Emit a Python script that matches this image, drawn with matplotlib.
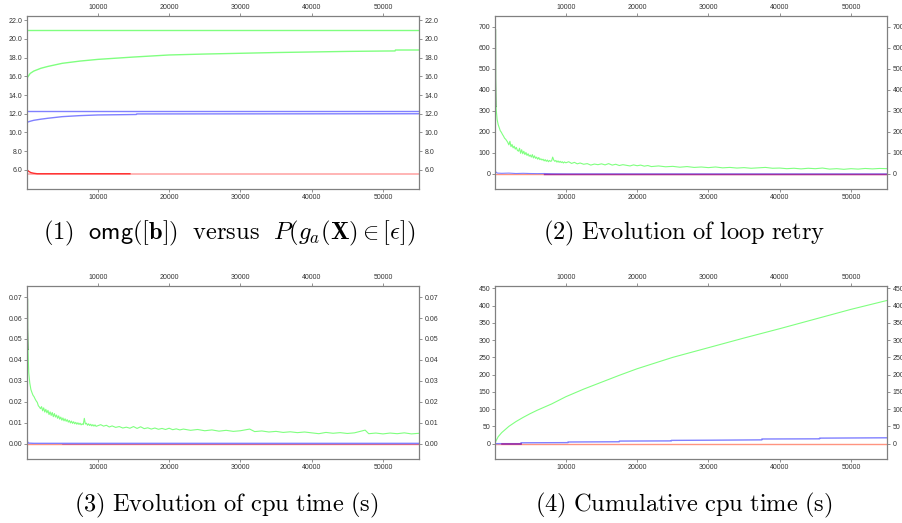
import matplotlib
matplotlib.use("Agg")
import matplotlib.pyplot as plt
from matplotlib.ticker import FormatStrFormatter

# --- Colours ---
GREEN = '#80ff80'
DARK_GREEN = '#1a8a1a'
BLUE = '#8080ff'
RED = '#ff3030'
LIGHT_RED = '#ffa8a8'
SALMON = '#ff9480'
PURPLE = '#a030a0'

# --- Panel 1: omg([b]) versus P(g_a(X) in [eps]) ---
p1_ref_x = [100, 55100]
p1_green_ref = [20.9, 20.9]
p1_blue_ref = [12.3, 12.3]
p1_red_ref = [5.57, 5.57]
p1_green_x = [100, 500, 1000, 2000, 3000, 5000, 7500, 10000, 15000, 20000, 25000,
              30000, 35000, 40000, 45000, 50000, 51700, 51750, 55100]
p1_green = [15.85, 16.3, 16.55, 16.85, 17.05, 17.38, 17.62, 17.8, 18.05, 18.27, 18.37,
            18.45, 18.53, 18.59, 18.65, 18.69, 18.7, 18.8, 18.8]
p1_blue_x = [100, 500, 1000, 2000, 3000, 5000, 7500, 10000, 15400, 15450, 55100]
p1_blue = [11.1, 11.2, 11.3, 11.42, 11.52, 11.69, 11.8, 11.87, 11.92, 11.98, 12.0]
p1_red_x = [100, 300, 600, 1000, 1500, 14500]
p1_red = [6.0, 5.85, 5.72, 5.65, 5.6, 5.6]

# --- Panel 2: loop retry ---
p2_spike_x = [140, 150, 190]
p2_spike = [685, 450, 320]
p2_green_x = [190, 350, 500, 650, 800, 950, 1100, 1250, 1400, 1550, 1700, 1850, 2000,
              2150, 2300, 2450, 2600, 2750, 2900, 3050, 3200, 3350, 3500, 3650, 3800,
              3950, 4100, 4250, 4400, 4550, 4700, 4850, 5000, 5150, 5300, 5450, 5600,
              5750, 5900, 6050, 6200, 6350, 6500, 6650, 6800, 6950, 7100, 7250, 7400,
              7550, 7700, 7850, 8000, 8150, 8300, 8450, 8600, 8750, 8900, 9050, 9200,
              9350, 9500, 9650, 9800, 10000, 10400, 10800, 11200, 11600, 12000, 12500,
              13000, 13500, 14000, 14500, 15000, 15500, 16000, 16500, 17000, 17500,
              18000, 18500, 19000, 19500, 20000, 20500, 21000, 21500, 22000, 23000,
              24000, 25000, 26000, 27000, 28000, 29000, 30000, 31000, 32000, 33000,
              34000, 35000, 36000, 37000, 38000, 39000, 40000, 41000, 42000, 43000,
              44000, 45000, 46000, 47000, 48000, 49000, 50000, 51000, 52000, 53000,
              54000, 55100]
p2_green = [320, 260, 235, 220, 205, 198, 188, 180, 170, 165, 158, 150, 138,
            155, 130, 140, 124, 132, 118, 126, 112, 108, 122, 98, 115,
            96, 108, 92, 102, 88, 96, 84, 90, 80, 92, 76, 86,
            74, 80, 70, 78, 68, 72, 66, 70, 62, 68, 60, 66,
            58, 64, 60, 62, 80, 66, 60, 64, 56, 62, 55, 60,
            54, 58, 52, 57, 53, 58, 50, 55, 48, 52, 46,
            49, 42, 47, 44, 48, 43, 49, 42, 46, 40,
            44, 41, 38, 43, 39, 42, 37, 40, 35, 38,
            34, 36, 32, 35, 31, 33, 30, 33, 29, 31,
            28, 30, 27, 29, 31, 27, 28, 25, 27, 24,
            27, 25, 28, 23, 25, 22, 25, 23, 26, 24,
            26, 25]
p2_blue_x = [100, 200, 400, 1000, 2000, 3000, 4000, 5000, 6000, 7000, 8000, 10000, 55100]
p2_blue = [16, 8, 4, 3, 4, 2, 3, 2, 1.5, 2, 1, 0.5, 0.3]
p2_red_x = [100, 55100]
p2_red = [0, 0]
p2_purple_x = [7000, 55100]
p2_purple = [0, 0]

# --- Panel 3: cpu time (s) ---
p3_spike_x = [140, 150, 200]
p3_spike = [0.069, 0.055, 0.045]
p3_green_x = [200, 300, 450, 600, 750, 900, 1050, 1200, 1350, 1500, 1650, 1800, 1950,
              2100, 2250, 2400, 2550, 2700, 2850, 3000, 3150, 3300, 3450, 3600, 3750,
              3900, 4050, 4200, 4350, 4500, 4650, 4800, 4950, 5100, 5250, 5400, 5550,
              5700, 5850, 6000, 6150, 6300, 6450, 6600, 6750, 6900, 7050, 7200, 7350,
              7500, 7650, 7800, 7950, 8100, 8250, 8400, 8550, 8700, 8850, 9000, 9150,
              9300, 9450, 9600, 9750, 10000, 10400, 10800, 11200, 11600, 12000, 12500,
              13000, 13500, 14000, 14500, 15000, 15500, 16000, 16500, 17000, 17500,
              18000, 18500, 19000, 19500, 20000, 20500, 21000, 21500, 22000, 23000,
              24000, 25000, 26000, 27000, 28000, 29000, 30000, 31300, 32000, 33000,
              34000, 35000, 36000, 37000, 38000, 39000, 40000, 41000, 42000, 43000,
              44000, 45000, 46000, 47500, 48000, 49000, 50000, 51000, 52000, 53000,
              54000, 55100]
p3_green = [0.045, 0.034, 0.029, 0.026, 0.0245, 0.0232, 0.0225, 0.0214, 0.0205, 0.0198,
            0.0182, 0.0176, 0.0168, 0.0178, 0.0158, 0.0172, 0.0152, 0.0165, 0.0148,
            0.0160, 0.0140, 0.0153, 0.0136, 0.0150, 0.0130, 0.0145, 0.0128, 0.0138,
            0.0122, 0.0134, 0.0118, 0.0128, 0.0113, 0.0124, 0.0110, 0.0120, 0.0108,
            0.0116, 0.0104, 0.0112, 0.0100, 0.0109, 0.0098, 0.0106, 0.0096, 0.0103,
            0.0094, 0.0101, 0.0093, 0.0099, 0.0091, 0.0096, 0.0092, 0.0122, 0.0095,
            0.0099, 0.0089, 0.0096, 0.0088, 0.0094, 0.0086, 0.0092, 0.0085, 0.0091,
            0.0084, 0.0087, 0.0092, 0.0085, 0.0089, 0.0081, 0.0086, 0.0079, 0.0083,
            0.0076, 0.0080, 0.0075, 0.0083, 0.0074, 0.0082, 0.0073, 0.0077, 0.0071,
            0.0076, 0.0070, 0.0074, 0.0069, 0.0075, 0.0068, 0.0072, 0.0067, 0.0071,
            0.0065, 0.0069, 0.0063, 0.0067, 0.0061, 0.0065, 0.0060, 0.0063, 0.0071,
            0.0059, 0.0062, 0.0057, 0.0060, 0.0055, 0.0058, 0.0054, 0.0057, 0.0053,
            0.0049, 0.0055, 0.0051, 0.0054, 0.0050, 0.0053, 0.0066, 0.0049, 0.0052,
            0.0048, 0.0052, 0.0049, 0.0053, 0.0048, 0.0051]
p3_blue_x = [100, 150, 300, 1000, 55100]
p3_blue = [0.0015, 0.0008, 0.0004, 0.0003, 0.0003]
p3_red_x = [100, 55100]
p3_red = [0, 0]
p3_purple_x = [5000, 55100]
p3_purple = [0.0001, 0.0001]

# --- Panel 4: cumulative cpu time (s) ---
p4_green_x = [100, 500, 1000, 2000, 3000, 4000, 5000, 6000, 7000, 8000, 10000, 12500,
              15000, 17500, 20000, 25000, 30000, 35000, 40000, 45000, 50000, 55100]
p4_green = [4, 20, 32, 50, 64, 76, 87, 97, 106, 115, 136, 158,
            178, 198, 217, 250, 278, 306, 333, 361, 389, 415]
p4_blue_x = [100, 3700, 3700, 10300, 10300, 17500, 17500, 24800, 24800, 30000, 37500,
             37500, 45600, 45600, 55100]
p4_blue = [0, 0, 2.5, 3, 4.8, 5.5, 7.5, 8, 9.5, 10, 11, 13.5, 14, 16, 17]
p4_red_x = [100, 55100]
p4_red = [0, 0]
p4_purple_x = [1000, 3700]
p4_purple = [0, 0]

X_TICKS = [10000, 20000, 30000, 40000, 50000]
XLIM = (100, 55100)

captions = [
    r'$\mathrm{(1)}\ \ \mathsf{omg}([\mathbf{b}])\ \ \mathrm{versus}\ \ P(g_a(\mathbf{X})\in[\mathbf{\epsilon}])$',
    r'$\mathrm{(2)\ Evolution\ of\ loop\ retry}$',
    r'$\mathrm{(3)\ Evolution\ of\ cpu\ time\ (s)}$',
    r'$\mathrm{(4)\ Cumulative\ cpu\ time\ (s)}$',
]

plt.rcParams['mathtext.fontset'] = 'cm'
plt.rcParams['font.family'] = ['Liberation Sans', 'DejaVu Sans']

fig = plt.figure(figsize=(9.02, 5.23), dpi=100)
W, H = 902.0, 523.0


def make_axes(left, top, right, bottom):
    return fig.add_axes([left / W, 1 - bottom / H, (right - left) / W, (bottom - top) / H])


def style(ax, ylim, yticks, fmt):
    ax.set_xlim(*XLIM)
    ax.set_ylim(*ylim)
    ax.set_xticks(X_TICKS)
    ax.set_yticks(yticks)
    ax.yaxis.set_major_formatter(FormatStrFormatter(fmt))
    ax.tick_params(which='both', direction='out', length=2.2, width=0.6, pad=1.5,
                   colors='#808080', labelcolor='#333333', labelsize=5.0,
                   top=True, right=True, labeltop=True, labelright=True)
    for s in ax.spines.values():
        s.set_color('#808080')
        s.set_linewidth(0.9)


ax1 = make_axes(27.3, 15.7, 419.3, 189.3)
ax2 = make_axes(495.3, 15.7, 887.3, 189.3)
ax3 = make_axes(27.3, 286.3, 419.3, 459.3)
ax4 = make_axes(495.3, 286.3, 887.3, 459.3)

lw = 0.8
# panel 1
ax1.plot(p1_ref_x, p1_green_ref, color=GREEN, lw=1.0)
ax1.plot(p1_green_x, p1_green, color=GREEN, lw=1.0)
ax1.plot(p1_ref_x, p1_blue_ref, color=BLUE, lw=1.0)
ax1.plot(p1_blue_x, p1_blue, color=BLUE, lw=1.0)
ax1.plot(p1_ref_x, p1_red_ref, color=LIGHT_RED, lw=1.2)
ax1.plot(p1_red_x, p1_red, color=RED, lw=1.0)
style(ax1, (3.94, 22.46), [6, 8, 10, 12, 14, 16, 18, 20, 22], '%.1f')

# panel 2
ax2.plot(p2_red_x, p2_red, color=SALMON, lw=1.0)
ax2.plot(p2_blue_x, p2_blue, color=BLUE, lw=lw)
ax2.plot(p2_purple_x, p2_purple, color=PURPLE, lw=1.0)
ax2.plot(p2_green_x, p2_green, color=GREEN, lw=lw)
ax2.plot(p2_spike_x, p2_spike, color=DARK_GREEN, lw=lw)
style(ax2, (-73, 752), [0, 100, 200, 300, 400, 500, 600, 700], '%d')

# panel 3
ax3.plot(p3_red_x, p3_red, color=SALMON, lw=1.0)
ax3.plot(p3_blue_x, p3_blue, color=BLUE, lw=1.0)
ax3.plot(p3_purple_x, p3_purple, color=PURPLE, lw=0.5, alpha=0.6)
ax3.plot(p3_green_x, p3_green, color=GREEN, lw=lw)
ax3.plot(p3_spike_x, p3_spike, color=DARK_GREEN, lw=lw)
style(ax3, (-0.0073, 0.0751), [0, 0.01, 0.02, 0.03, 0.04, 0.05, 0.06, 0.07], '%.2f')

# panel 4
ax4.plot(p4_red_x, p4_red, color=SALMON, lw=1.0)
ax4.plot(p4_blue_x, p4_blue, color=BLUE, lw=1.0)
ax4.plot(p4_purple_x, p4_purple, color=PURPLE, lw=1.2)
ax4.plot(p4_green_x, p4_green, color=GREEN, lw=lw)
style(ax4, (-45.3, 455.8), [0, 50, 100, 150, 200, 250, 300, 350, 400, 450], '%d')

# captions
fs = 17.6
fig.text(229 / W, 1 - 233 / H, captions[0], ha='center', va='center', fontsize=fs)
fig.text(684 / W, 1 - 233 / H, captions[1], ha='center', va='center', fontsize=fs)
fig.text(226 / W, 1 - 505 / H, captions[2], ha='center', va='center', fontsize=fs)
fig.text(684 / W, 1 - 505 / H, captions[3], ha='center', va='center', fontsize=fs)

fig.savefig('out.png', dpi=100)
